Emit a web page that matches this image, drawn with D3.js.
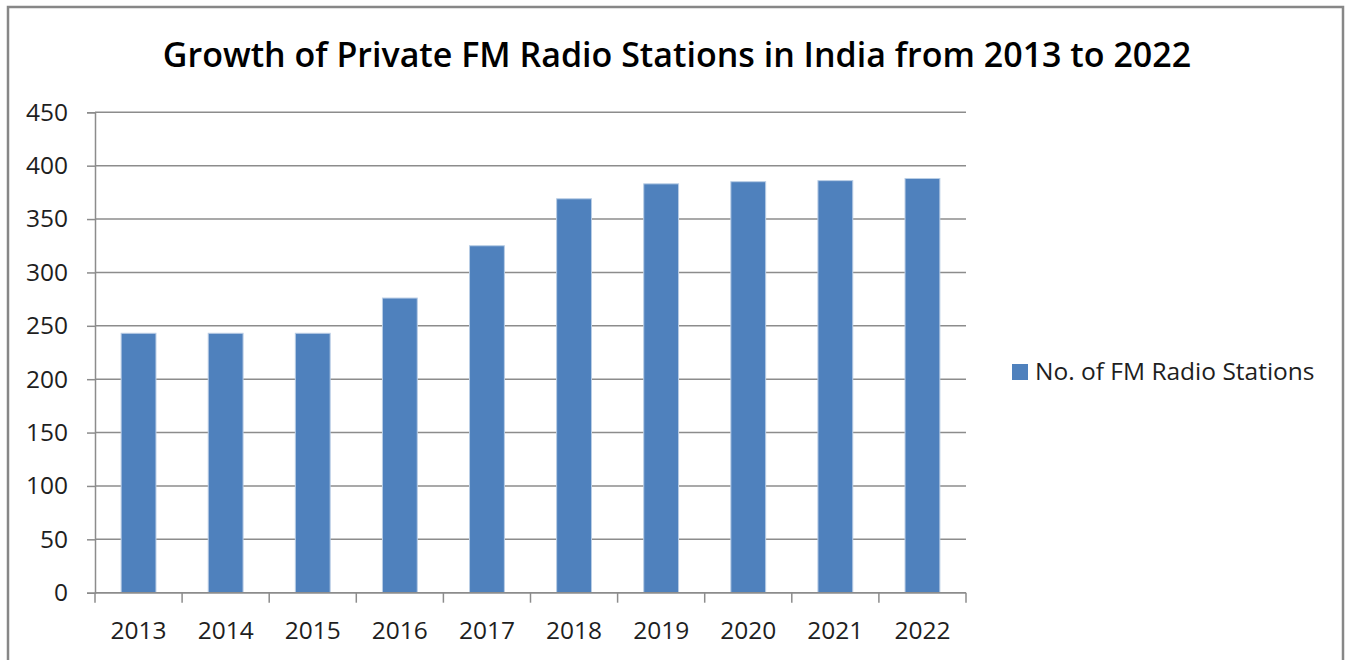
<!DOCTYPE html>
<html><head><meta charset="utf-8">
<script src="https://cdn.jsdelivr.net/npm/d3@7"></script>
<style>html,body{margin:0;padding:0;background:#fff;overflow:hidden}</style>
</head><body>
<svg id="chart" width="1345" height="660"></svg>
<script>
const years = ["2013","2014","2015","2016","2017","2018","2019","2020","2021","2022"];
const stations = [243, 243, 243, 276, 325, 369, 383, 385, 386, 388];
const yTicks = [0,50,100,150,200,250,300,350,400,450];
const seriesName = "No. of FM Radio Stations";
const title = "Growth of Private FM Radio Stations in India from 2013 to 2022";

const svg = d3.select("#chart");
const font = "'Open Sans', Lato, sans-serif";
const L = 95, R = 966, T = 112.3, B = 592.7;

// outer border
svg.append("rect").attr("x",8).attr("y",7).attr("width",1335).attr("height",670)
  .attr("fill","#fff").attr("stroke","#878787").attr("stroke-width",2.5);

svg.append("text").attr("x",677).attr("y",67).attr("text-anchor","middle")
  .attr("font-family",font).attr("font-weight",600).attr("font-size",34)
  .attr("fill","#000").text(title);

const x = d3.scaleBand().domain(years).range([L,R]).paddingInner(0.6).paddingOuter(0.3);
const y = d3.scaleLinear().domain([0,450]).range([B,T]);

// gridlines
svg.append("g").selectAll("line").data(yTicks).join("line")
  .attr("x1",L).attr("x2",R).attr("y1",d=>y(d)).attr("y2",d=>y(d))
  .attr("stroke","#8c8c8c").attr("stroke-width",1.5);

// y axis
const ya = svg.append("g").attr("transform",`translate(${L},0)`)
  .call(d3.axisLeft(y).tickValues(yTicks).tickSize(8).tickPadding(19));
ya.select(".domain").attr("stroke","#8c8c8c").attr("stroke-width",1.5);
ya.selectAll(".tick line").attr("stroke","#8c8c8c").attr("stroke-width",1.5);
ya.selectAll("text").attr("font-family",font).attr("font-size",24.5).attr("fill","#1e1e1e");

// bars
svg.append("g").selectAll("rect").data(stations).join("rect")
  .attr("x",(d,i)=>x(years[i])).attr("width",x.bandwidth())
  .attr("y",d=>y(d)).attr("height",d=>y(0)-y(d))
  .attr("fill","#4F81BD").attr("stroke","#b9cde5").attr("stroke-width",1);

// x axis
const bx = d3.scaleLinear().domain([0,years.length]).range([L,R]);
svg.append("line").attr("x1",L).attr("x2",R).attr("y1",B).attr("y2",B)
  .attr("stroke","#8c8c8c").attr("stroke-width",1.5);
svg.append("g").selectAll("line").data(d3.range(years.length+1)).join("line")
  .attr("x1",d=>bx(d)).attr("x2",d=>bx(d)).attr("y1",B).attr("y2",B+10)
  .attr("stroke","#8c8c8c").attr("stroke-width",1.5);
svg.append("g").selectAll("text").data(years).join("text")
  .attr("x",d=>x(d)+x.bandwidth()/2).attr("y",639).attr("text-anchor","middle")
  .attr("font-family",font).attr("font-size",24.5).attr("fill","#1e1e1e").text(d=>d);

// legend
svg.append("rect").attr("x",1012).attr("y",364).attr("width",16).attr("height",16).attr("fill","#4F81BD");
svg.append("text").attr("x",1035).attr("y",380).attr("font-family",font).attr("font-size",24.5)
  .attr("fill","#1e1e1e").text(seriesName);
</script>
</body></html>
